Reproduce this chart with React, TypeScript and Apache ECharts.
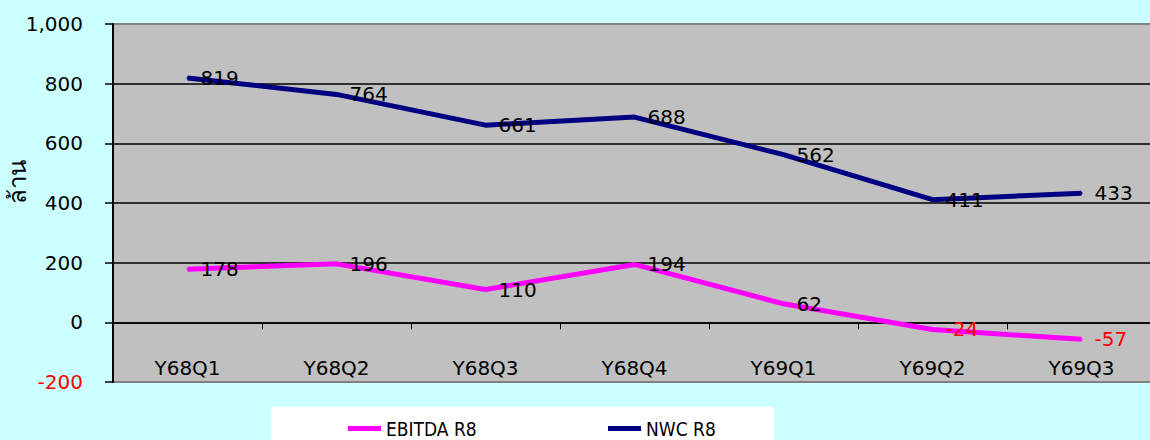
import React, { useEffect, useRef } from "react";
import * as echarts from "echarts";

const categories = ["Y68Q1", "Y68Q2", "Y68Q3", "Y68Q4", "Y69Q1", "Y69Q2", "Y69Q3"];
const ebitda = [178, 196, 110, 194, 62, -24, -57];
const nwc = [819, 764, 661, 688, 562, 411, 433];
const seriesNames = ["EBITDA R8", "NWC R8"];
const yAxisName = "ล้าน";

const FONT = "DejaVu Sans";
const NARROW = "'Liberation Sans Narrow', 'DejaVu Sans Condensed', sans-serif";

export default function App() {
  const ref = useRef<HTMLDivElement>(null);
  useEffect(() => {
    const chart = echarts.init(ref.current!, null, { renderer: "svg" });
    const labelOpt = {
      show: true,
      position: "right",
      distance: 12,
      fontSize: 20,
      fontFamily: FONT,
      color: "#000",
      formatter: (p: any) => (p.value < 0 ? `{neg|${p.value}}` : `${p.value}`),
      rich: { neg: { color: "#ff0000", fontSize: 20, fontFamily: FONT } },
    };
    const legendText = { fontSize: 19, fontFamily: NARROW, color: "#000" };
    chart.setOption({
      animation: false,
      backgroundColor: "#ccffff",
      graphic: [
        {
          type: "rect",
          shape: { x: 271, y: 407, width: 503, height: 40 },
          style: { fill: "#ffffff" },
          z: 0,
        },
        {
          type: "text",
          x: 18,
          y: 182,
          rotation: Math.PI / 2,
          style: {
            text: yAxisName,
            fontSize: 24,
            fontFamily: FONT,
            fill: "#000",
            align: "center",
            verticalAlign: "middle",
          },
        },
      ],
      legend: [
        {
          data: [seriesNames[0]],
          left: 343,
          top: 414,
          icon: "rect",
          itemWidth: 33,
          itemHeight: 5,
          itemGap: 0,
          textStyle: legendText,
        },
        {
          data: [seriesNames[1]],
          left: 603,
          top: 414,
          icon: "rect",
          itemWidth: 33,
          itemHeight: 5,
          textStyle: legendText,
        },
      ],
      grid: {
        left: 113,
        top: 24,
        width: 1043,
        height: 358,
        outerBoundsMode: "none",
        containLabel: false,
        show: true,
        backgroundColor: "#c0c0c0",
        borderColor: "#808080",
        borderWidth: 2,
      },
      xAxis: {
        type: "category",
        data: categories,
        boundaryGap: true,
        axisLine: { show: true, onZero: true, lineStyle: { color: "#000", width: 1.5 } },
        axisTick: { show: true, length: 7, lineStyle: { color: "#000", width: 1 } },
        axisLabel: { fontSize: 20, fontFamily: FONT, color: "#000", margin: -24 },
        splitLine: { show: false },
      },
      yAxis: {
        type: "value",
        min: -200,
        max: 1000,
        interval: 200,
        axisLine: { show: true, lineStyle: { color: "#000", width: 2 } },
        axisTick: { show: true, length: 8, lineStyle: { color: "#000", width: 1.5 } },
        axisLabel: {
          fontSize: 20,
          fontFamily: FONT,
          color: "#000",
          margin: 30,
          formatter: (v: number) => {
            const s = v.toLocaleString("en-US");
            return v < 0 ? `{neg|${s}}` : s;
          },
          rich: { neg: { color: "#ff0000", fontSize: 20, fontFamily: FONT } },
        },
        splitLine: {
          show: true,
          lineStyle: {
            color: ["#808080", "#000", "#000", "#000", "#000", "#000", "#808080"],
            width: 1.5,
          },
        },
      },
      series: [
        {
          name: seriesNames[0],
          type: "line",
          data: ebitda,
          symbol: "circle",
          symbolSize: 2,
          showSymbol: true,
          itemStyle: { color: "#ff00ff" },
          color: "#ff00ff",
          lineStyle: { width: 5, color: "#ff00ff" },
          label: labelOpt,
          labelLayout: { hideOverlap: false },
          z: 3,
        },
        {
          name: seriesNames[1],
          type: "line",
          data: nwc,
          symbol: "circle",
          symbolSize: 2,
          showSymbol: true,
          itemStyle: { color: "#000080" },
          color: "#000080",
          lineStyle: { width: 5, color: "#000080" },
          label: labelOpt,
          labelLayout: { hideOverlap: false },
          z: 3,
        },
      ],
    });
    return () => chart.dispose();
  }, []);
  return (
    <div
      ref={ref}
      style={{ position: "fixed", left: 0, top: 0, width: 1150, height: 440 }}
    />
  );
}
